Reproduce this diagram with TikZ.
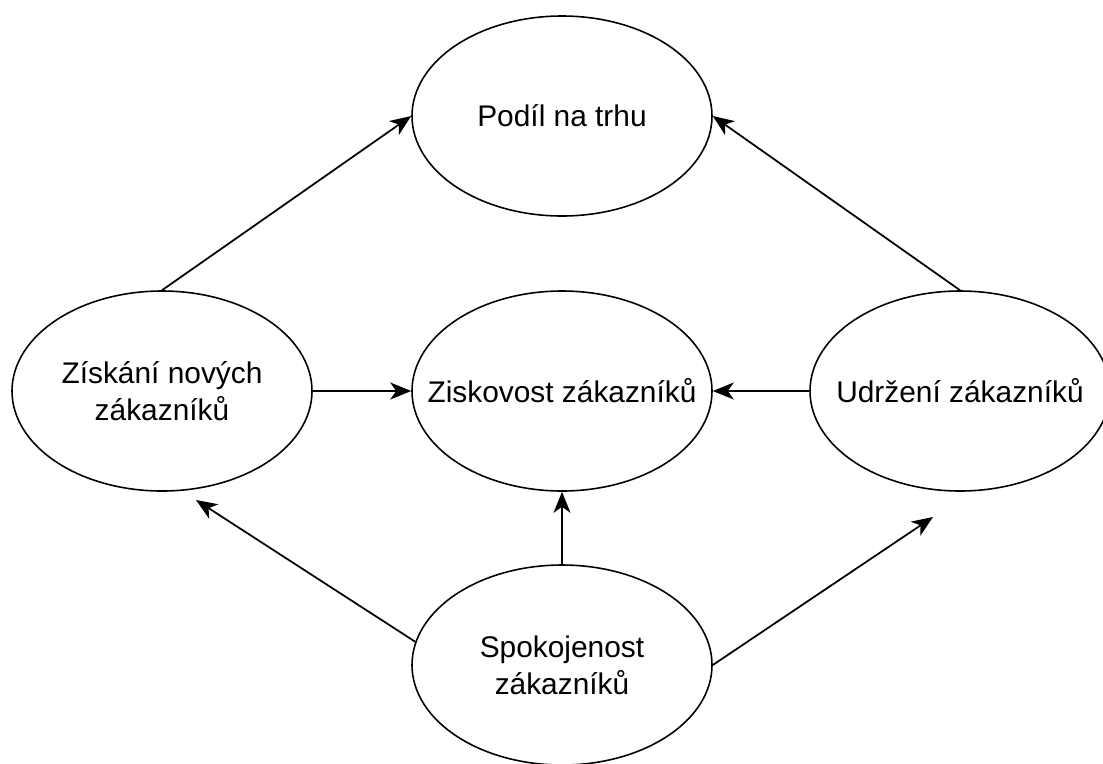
\documentclass[tikz,border=0pt]{standalone}
\usepackage{fontspec}
\setmainfont{Liberation Sans}
\usetikzlibrary{arrows.meta,shapes.geometric}

\begin{document}
\begin{tikzpicture}[
    faktor/.style={draw,ellipse,line width=0.9pt,minimum width=6cm,minimum height=4cm,inner xsep=-1cm,inner ysep=0pt,align=center,font=\fontsize{17}{21}\selectfont},
    vliv/.style={-{Stealth[length=0.42cm,width=0.34cm,inset=0.12cm]},line width=1pt}]
                    \useasboundingbox (0,0) rectangle (22.06,-15.26);
                    \node[faktor] (podil) at (11.24,-2.32) {Podíl na trhu};
                    \node[faktor] (ziskani) at (3.24,-7.82) {Získání nových\\zákazníků};
                    \node[faktor] (ziskovost) at (11.24,-7.82) {Ziskovost zákazníků};
                    \node[faktor] (udrzeni) at (19.2,-7.82) {Udržení zákazníků};
                    \node[faktor] (spokojenost) at (11.24,-13.3) {Spokojenost\\zákazníků};
                    \coordinate (konecL) at (3.92,-10.0);
                    \coordinate (konecR) at (18.66,-10.34);

                    \draw[vliv] (ziskani.north) -- (podil.west);
                    \draw[vliv] (udrzeni.north) -- (podil.east);
                    \draw[vliv] (ziskani.east) -- (ziskovost.west);
                    \draw[vliv] (udrzeni.west) -- (ziskovost.east);
                    \draw[vliv] (spokojenost.north) -- (ziskovost.south);
                    \draw[vliv] (spokojenost.171) -- (konecL);
                    \draw[vliv] (spokojenost.east) -- (konecR);
                \end{tikzpicture}
\end{document}
